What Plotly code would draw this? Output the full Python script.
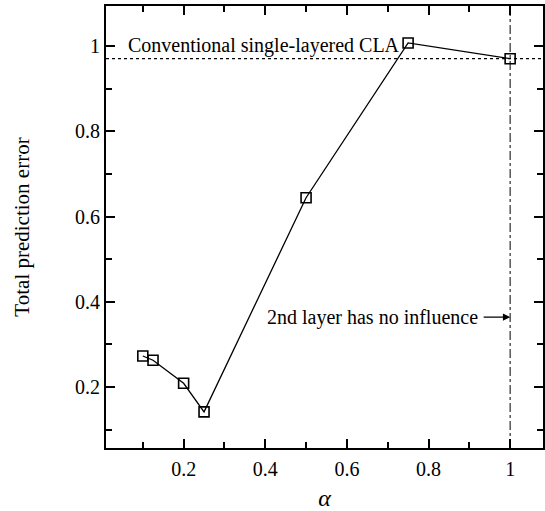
import plotly.graph_objects as go

alpha = [0.1, 0.125, 0.2, 0.25, 0.5, 0.75, 1.0]
error = [0.273, 0.263, 0.209, 0.142, 0.644, 1.007, 0.970]
conventional_cla = 0.97
no_influence_alpha = 1.0
x_ticks = [0.2, 0.4, 0.6, 0.8, 1.0]
x_tick_text = ["0.2", "0.4", "0.6", "0.8", "1"]
y_ticks = [0.2, 0.4, 0.6, 0.8, 1.0]
y_tick_text = ["0.2", "0.4", "0.6", "0.8", "1"]

FONT = "Liberation Serif"

fig = go.Figure()
fig.add_trace(go.Scatter(
    x=alpha, y=error, mode="lines+markers",
    line=dict(color="black", width=1.3),
    marker=dict(symbol="square-open", size=10, color="black", line=dict(width=1.6, color="black")),
    showlegend=False,
))

fig.add_shape(type="line", xref="paper", yref="y", x0=0, x1=1, y0=conventional_cla, y1=conventional_cla,
              line=dict(color="black", width=1.2, dash="dot"))
fig.add_shape(type="line", xref="x", yref="paper", x0=no_influence_alpha, x1=no_influence_alpha, y0=0, y1=1,
              line=dict(color="black", width=1, dash="dashdot"))

fig.add_annotation(x=0.058, y=1.0, text="Conventional single-layered CLA", showarrow=False,
                   xanchor="left", yanchor="middle", font=dict(family=FONT, size=20, color="black"))
fig.add_annotation(x=0.927, y=0.364, text="2nd layer has no influence", showarrow=False,
                   xanchor="right", yanchor="middle", font=dict(family=FONT, size=20, color="black"))
fig.add_annotation(x=no_influence_alpha, y=0.364, ax=-28, ay=0, axref="pixel", ayref="pixel", text="",
                   showarrow=True, arrowhead=2, arrowsize=1.2, arrowwidth=1.2, arrowcolor="black")

axis_common = dict(
    showgrid=False, zeroline=False, showline=True, linecolor="black", linewidth=2,
    mirror="allticks", ticks="inside", ticklen=9, tickwidth=1.5, tickcolor="black",
    tickfont=dict(family=FONT, size=20, color="black"),
    minor=dict(ticks="inside", ticklen=6, tickwidth=1.5, tickcolor="black", dtick=0.1, tick0=0),
)

fig.update_xaxes(range=[0.0098, 1.0805], tickmode="array", tickvals=x_ticks, ticktext=x_tick_text,
                 ticklabelstandoff=2,
                 title=dict(text="<i>α</i>", font=dict(family=FONT, size=24, color="black"), standoff=14),
                 **axis_common)
fig.update_yaxes(range=[0.0573, 1.0936], tickmode="array", tickvals=y_ticks, ticktext=y_tick_text,
                 ticklabelstandoff=0,
                 title=dict(text="Total prediction error", font=dict(family=FONT, size=21, color="black"), standoff=40),
                 **axis_common)

fig.update_layout(
    width=545, height=511,
    margin=dict(l=106, r=0, t=6, b=62),
    plot_bgcolor="white", paper_bgcolor="white",
    font=dict(family=FONT, color="black"),
)

fig.write_html("out.html")
